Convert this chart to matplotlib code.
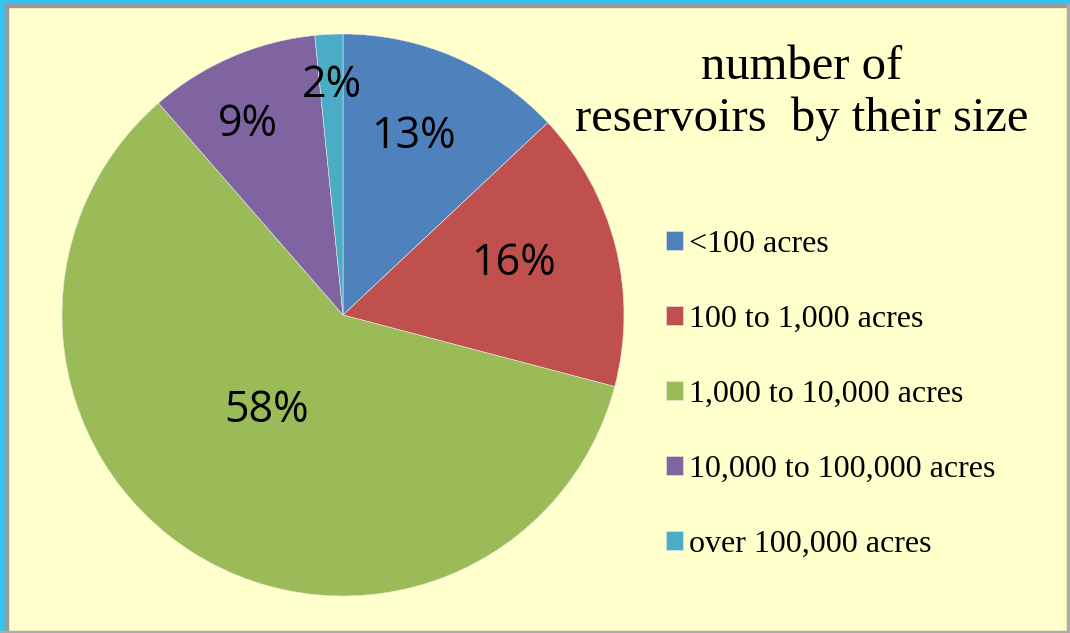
import numpy as np
import matplotlib.pyplot as plt
from matplotlib.patches import Rectangle

# Datos del grafico
categorias = ['<100 acres', '100 to 1,000 acres', '1,000 to 10,000 acres',
              '10,000 to 100,000 acres', 'over 100,000 acres']
porcentajes = [13.0, 16.1, 59.5, 9.8, 1.6]
etiquetas = ['13%', '16%', '58%', '9%', '2%']
colores = ['#4F81BD', '#C0504D', '#9BBB59', '#8064A2', '#4BACC6']

fondo = '#FFFFCC'

fig = plt.figure(figsize=(10.7, 6.33), dpi=100, facecolor=fondo)

# Marco: franja azul arriba e izquierda, linea gris
fig.patches.append(Rectangle((0, 1 - 4/633), 1, 4/633, transform=fig.transFigure,
                             color='#35C3F3', zorder=0))
fig.patches.append(Rectangle((0, 0), 5/1070, 1, transform=fig.transFigure,
                             color='#35C3F3', zorder=0))
fig.patches.append(Rectangle((5/1070, 0), 3/1070, 1 - 4/633, transform=fig.transFigure,
                             color='#999999', zorder=0))
fig.patches.append(Rectangle((5/1070, 1 - 7/633), 1 - 5/1070, 3/633, transform=fig.transFigure,
                             color='#999999', zorder=0))
fig.patches.append(Rectangle((1 - 3/1070, 0), 3/1070, 1 - 4/633, transform=fig.transFigure,
                             color='#AAAAAA', zorder=0))
fig.patches.append(Rectangle((0, 0), 1, 2/633, transform=fig.transFigure,
                             color='#AAAAAA', zorder=0))

# Pastel
ax = fig.add_axes([62/1070, 37/633, 562/1070, 562/633])
ax.set_facecolor('none')
cunas, _ = ax.pie(porcentajes, colors=colores, startangle=90, counterclock=False,
                  radius=1.0, wedgeprops=dict(edgecolor='#E8E8E8', linewidth=0.4))
ax.set_xlim(-1, 1)
ax.set_ylim(-1, 1)
ax.set_aspect('equal')
ax.axis('off')

# Etiquetas dentro de cada porcion (distancia y giro respecto al centro de la porcion)
dist_etiqueta = [0.70, 0.64, 0.42, 0.775, 0.837]
giro_etiqueta = [-2.5, -4.3, 8.3, -2.5, 0.2]
for cuna, txt, d, g in zip(cunas, etiquetas, dist_etiqueta, giro_etiqueta):
    ang = np.deg2rad((cuna.theta1 + cuna.theta2) / 2 - g)
    ax.text(d * np.cos(ang), d * np.sin(ang), txt, ha='center', va='center_baseline',
            fontsize=31, family='Open Sans', color='black')

# Titulo
fig.text(802/1070, 1 - 93/633, 'number of\nreservoirs  by their size', ha='center',
         va='center', fontsize=35, family='Liberation Serif', linespacing=1.24)

# Leyenda
leg = fig.legend(cunas, categorias, loc='upper left', bbox_to_anchor=(653/1070, 1 - 217/633),
                 frameon=False, prop={'family': 'Liberation Serif', 'size': 23},
                 handlelength=0.53, handleheight=0.53, handletextpad=0.2,
                 labelspacing=1.44, borderaxespad=0)

fig.savefig('out.png', dpi=100, facecolor=fondo)
